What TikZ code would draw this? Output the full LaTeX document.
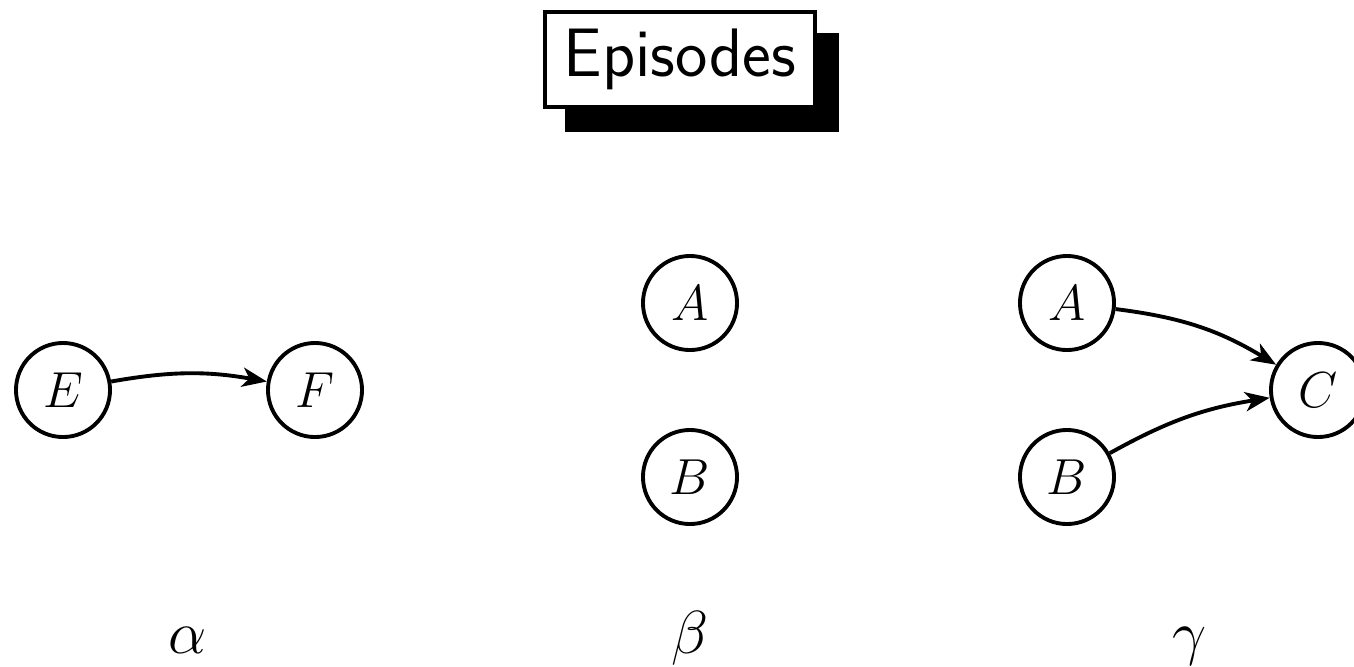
\documentclass[tikz,border=0pt]{standalone}
\usetikzlibrary{arrows.meta}
\begin{document}
\begin{tikzpicture}[x=0.01cm,y=-0.01cm,
  state/.style={circle,draw,line width=1.1pt,minimum size=0.94cm,inner sep=0pt,
    font=\fontsize{15.5}{18}\selectfont},
  edge/.style={line width=1.1pt,-{Stealth[length=7pt,width=5.5pt,inset=2pt]}},
  caption/.style={font=\LARGE,anchor=base},
  titlebox/.style={draw,fill=white,line width=1.1pt,inner sep=0pt,
    minimum width=2.7cm,minimum height=0.95cm,
    font=\sffamily\fontsize{19.5}{22}\selectfont}]
  \useasboundingbox (0,0) rectangle (1354,666);

  % title with a solid drop shadow
  \node[titlebox] (title) at (680,59.5) {Episodes};
  \fill ([xshift=0.22cm,yshift=-0.23cm]title.south west)
    rectangle ([xshift=0.22cm,yshift=-0.23cm]title.north east);
  \node[titlebox] at (title) {Episodes};

  % alpha
  \node[state] (e) at (63,390) {$E$};
  \node[state] (f) at (315,390) {$F$};
  \draw[edge] (e) to[bend left=10] (f);

  % beta
  \node[state] (ba) at (690,303) {$A$};
  \node[state] (bb) at (690,477) {$B$};

  % gamma
  \node[state] (ga) at (1067,303) {$A$};
  \node[state] (gb) at (1067,477) {$B$};
  \node[state] (gc) at (1318,390) {$C$};
  \draw[edge] (ga) to[bend left=12] (gc);
  \draw[edge] (gb) to[bend left=10] (gc);

  % captions
  \node[caption] (la) at (188,653) {$\alpha$};
  \node[caption] (lb) at (690,653) {$\beta$};
  \node[caption] (lc) at (1190,653) {$\gamma$};
\end{tikzpicture}
\end{document}
